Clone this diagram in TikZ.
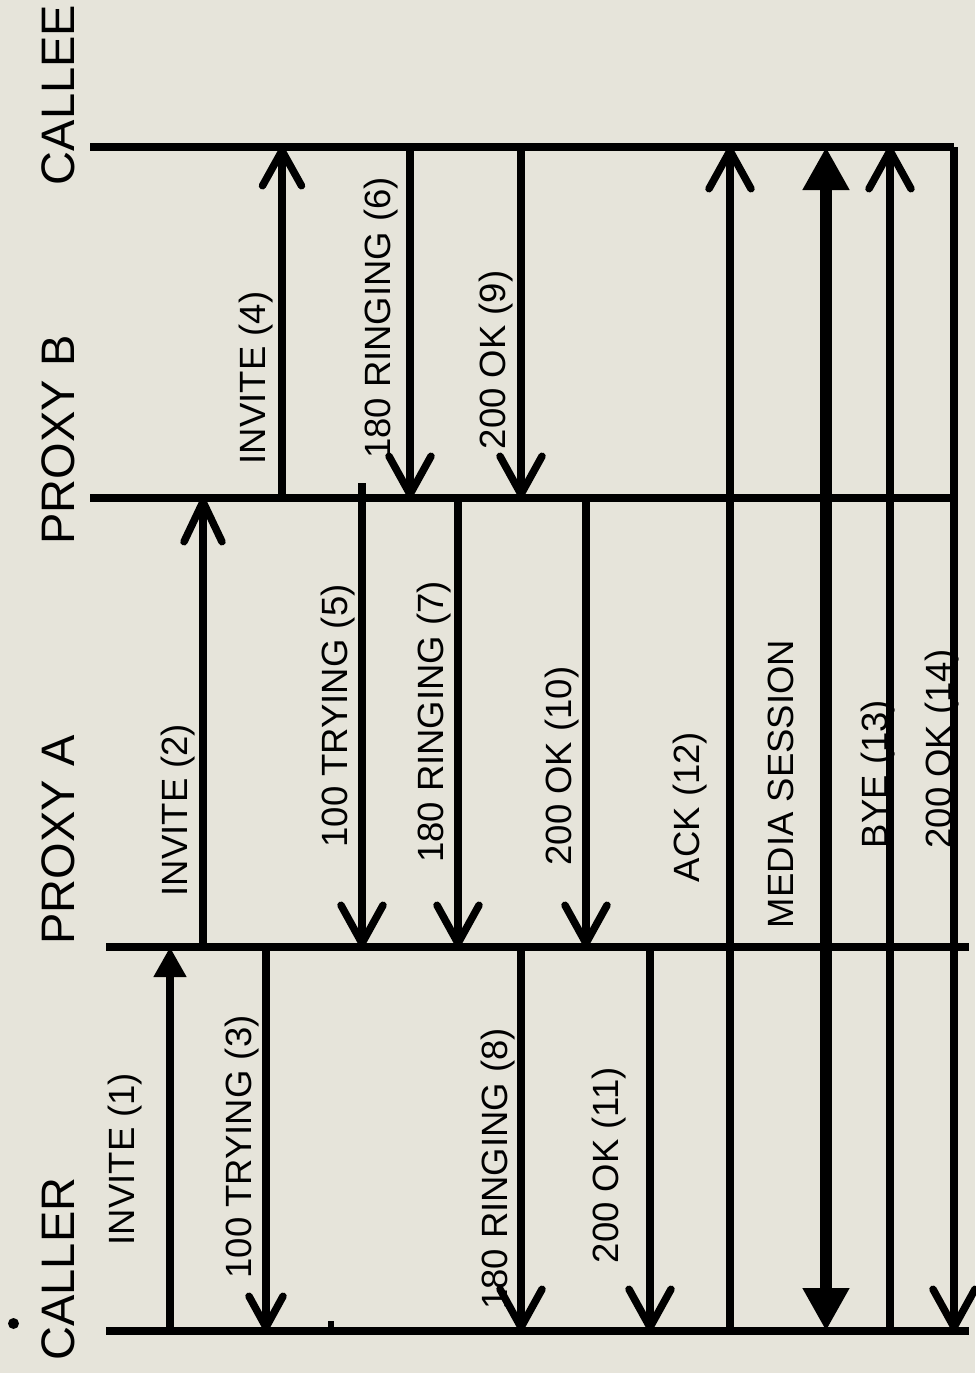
\documentclass[tikz,border=0pt]{standalone}
\usepackage{fontspec}
\setmainfont{Liberation Sans}
\usetikzlibrary{arrows.meta}
\definecolor{bg}{RGB}{230,228,218}
\begin{document}
\begin{tikzpicture}[x=1pt,y=-1pt,
  life/.style={line width=8pt},
  msg/.style={line width=7.5pt},
  barb/.style={-{Straight Barb[length=38pt,width=42pt,round]}},
  tri/.style={-{Triangle[length=30pt,width=31pt]}},
  bigtri/.style={{Triangle[length=43pt,width=44pt]}-{Triangle[length=43pt,width=44pt]}},
  lbl/.style={rotate=90,anchor=base,inner sep=0pt,font=\fontsize{36.5}{40}\selectfont},
  actor/.style={rotate=90,anchor=base,inner sep=0pt,font=\fontsize{47}{52}\selectfont},
]
\fill[bg] (0,0) rectangle (975,1373);
\useasboundingbox (0,0) rectangle (975,1373);

% lifelines
\coordinate (CEl) at (90,147);  \coordinate (CEr) at (954,147);
\coordinate (PBl) at (90,498);  \coordinate (PBr) at (954,498);
\coordinate (PAl) at (106,947); \coordinate (PAr) at (969,947);
\coordinate (CRl) at (106,1331);\coordinate (CRr) at (969,1331);
\draw[life] (CEl) -- (CEr);
\draw[life] (PBl) -- (PBr);
\draw[life] (PAl) -- (PAr);
\draw[life] (CRl) -- (CRr);

% actor labels
\node[actor] (tCE) at (74,95) {CALLEE};
\node[actor] (tPB) at (74,440) {PROXY B};
\node[actor] (tPA) at (74,840) {PROXY A};
\node[actor] (tCR) at (74,1269) {CALLER};
\fill (13.5,1323.5) circle[radius=5.5pt];
\fill (328,1321) rectangle (334,1331);

% message labels
\node[lbl] (l1) at (134.5,1159) {INVITE (1)};
\node[lbl] (l2) at (187,810) {INVITE (2)};
\node[lbl] (l3) at (251.5,1147) {100 TRYING (3)};
\node[lbl] (l4) at (265,378) {INVITE (4)};
\node[lbl] (l5) at (347,716) {100 TRYING (5)};
\node[lbl] (l6) at (390,318) {180 RINGING (6)};
\node[lbl] (l7) at (443,722) {180 RINGING (7)};
\node[lbl] (l8) at (507,1169) {180 RINGING (8)};
\node[lbl] (l9) at (505,360) {200 OK (9)};
\node[lbl] (l10) at (571,766) {200 OK (10)};
\node[lbl] (l11) at (618,1165) {200 OK (11)};
\node[lbl] (l12) at (699,807) {ACK (12)};
\node[lbl] (l13) at (793,784) {MEDIA SESSION};
\node[lbl] (l14) at (887,774) {BYE (13)};
\node[lbl] (l15) at (951,749) {200 OK (14)};

% message endpoints
\coordinate (m1a) at (170,1331); \coordinate (m1b) at (170,947);
\coordinate (m2a) at (203,947);  \coordinate (m2b) at (203,498);
\coordinate (m3a) at (266,947);  \coordinate (m3b) at (266,1331);
\coordinate (m4a) at (282,498);  \coordinate (m4b) at (282,147);
\coordinate (m5a) at (362,483);  \coordinate (m5b) at (362,947);
\coordinate (m6a) at (410,147);  \coordinate (m6b) at (410,498);
\coordinate (m7a) at (458,498);  \coordinate (m7b) at (458,947);
\coordinate (m8a) at (521,947);  \coordinate (m8b) at (521,1331);
\coordinate (m9a) at (521,147);  \coordinate (m9b) at (521,498);
\coordinate (m10a) at (586,498); \coordinate (m10b) at (586,947);
\coordinate (m11a) at (650,947); \coordinate (m11b) at (650,1331);
\coordinate (m12a) at (730,1331);\coordinate (m12b) at (730,147);
\coordinate (m13a) at (826,147); \coordinate (m13b) at (826,1331);
\coordinate (m14a) at (890,1331);\coordinate (m14b) at (890,147);
\coordinate (m15a) at (954,147); \coordinate (m15b) at (954,1331);

\draw[msg,tri] (m1a) -- (m1b);
\draw[msg,-{Straight Barb[length=40pt,width=38pt,round]}] (m2a) -- (m2b);
\draw[msg,-{Straight Barb[length=31pt,width=34pt,round]}] (m3a) -- (m3b);
\draw[msg,-{Straight Barb[length=35pt,width=39pt,round]}] (m4a) -- (m4b);
\draw[msg,barb] (m5a) -- (m5b);
\draw[msg,barb] (m6a) -- (m6b);
\draw[msg,barb] (m7a) -- (m7b);
\draw[msg,barb] (m8a) -- (m8b);
\draw[msg,barb] (m9a) -- (m9b);
\draw[msg,barb] (m10a) -- (m10b);
\draw[msg,barb] (m11a) -- (m11b);
\draw[msg,barb] (m12a) -- (m12b);
\draw[line width=12pt,bigtri] (m13a) -- (m13b);
\draw[msg,barb] (m14a) -- (m14b);
\draw[msg,barb] (m15a) -- (m15b);
\end{tikzpicture}
\end{document}
